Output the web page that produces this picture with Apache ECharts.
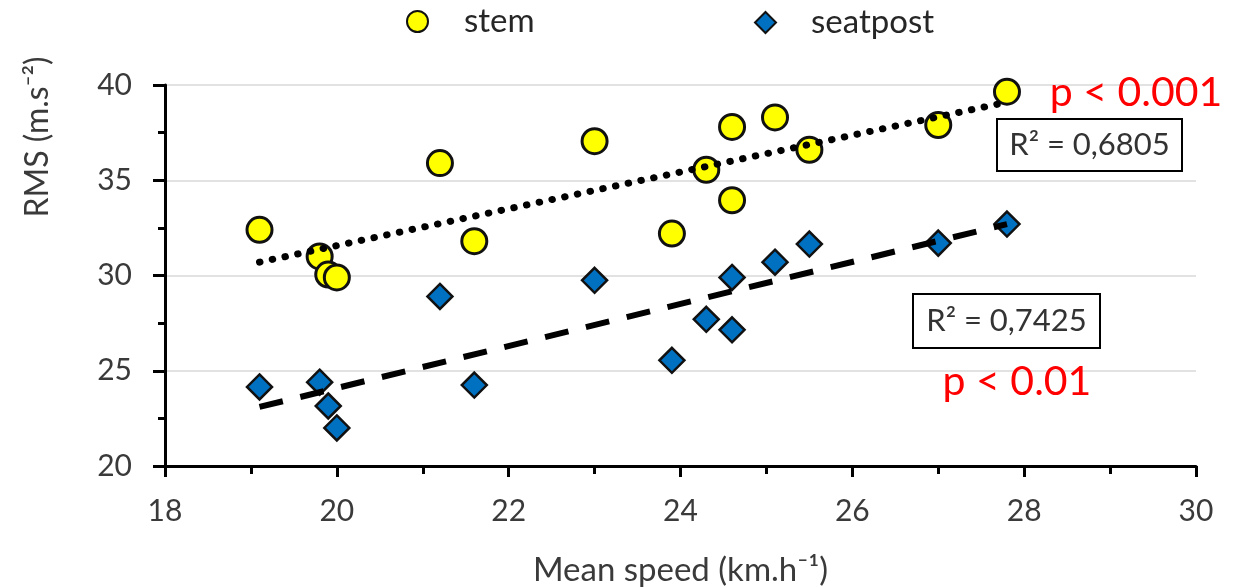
<!DOCTYPE html>
<html><head><meta charset="utf-8">
<script src="https://cdn.jsdelivr.net/npm/echarts@6/dist/echarts.min.js"></script>
<style>html,body{margin:0;padding:0;background:#fff}#c{width:1234px;height:587px}</style>
</head><body><div id="c"></div>
<script>
// ---- data ----
const stemX = [19.1, 19.8, 19.9, 20.0, 21.2, 21.6, 23.0, 23.9, 24.3, 24.6, 24.6, 25.1, 25.5, 27.0, 27.8];
const stemY = [32.4, 31.0, 30.05, 29.9, 35.9, 31.8, 37.05, 32.2, 35.55, 37.8, 33.95, 38.3, 36.6, 37.9, 39.65];
const seatX = [19.1, 19.8, 19.9, 20.0, 21.2, 21.6, 23.0, 23.9, 24.3, 24.6, 24.6, 25.1, 25.5, 27.0, 27.8];
const seatY = [24.15, 24.4, 23.15, 22.0, 28.9, 24.25, 29.75, 25.55, 27.7, 29.9, 27.15, 30.7, 31.65, 31.7, 32.7];
const stemTrendX = [19.1, 27.8];
const stemTrendY = [30.7, 39.1];
const seatTrendX = [19.1, 27.8];
const seatTrendY = [23.1, 32.7];
const seriesNames = ['stem', 'seatpost'];
const xAxisTitle = 'Mean speed (km.h\u207B\u00B9)';
const yAxisTitle = 'RMS (m.s\u207B\u00B2)';
const r2Labels = ['R\u00B2 = 0,6805', 'R\u00B2 = 0,7425'];
const pLabels = ['p < 0.001', 'p < 0.01'];

const FONT = 'Lato';
const pair = (xs, ys) => xs.map((x, i) => [x, ys[i]]);

const chart = echarts.init(document.getElementById('c'), null, {renderer: 'canvas'});
const axisBlack = {color: '#000', width: 3};
chart.setOption({
  animation: false,
  backgroundColor: '#fff',
  grid: {left: 165, right: 38, top: 85, bottom: 121, containLabel: false, outerBoundsMode: 'none'},
  legend: [
    {data: [seriesNames[0]], left: 401, top: 0, itemWidth: 21, itemHeight: 21,
     textStyle: {fontFamily: FONT, fontSize: 33, lineHeight: 24, color: '#262626', padding: [0, 0, 0, 31]}},
    {data: [seriesNames[1]], left: 749, top: 1, itemWidth: 21, itemHeight: 21,
     textStyle: {fontFamily: FONT, fontSize: 33, lineHeight: 24, color: '#262626', padding: [0, 0, 0, 30]}}
  ],
  xAxis: {
    type: 'value', min: 18, max: 30, interval: 2,
    axisLine: {show: true, onZero: false, lineStyle: axisBlack},
    axisTick: {show: true, inside: false, length: 11, lineStyle: axisBlack},
    minorTick: {show: true, splitNumber: 2, length: 8, lineStyle: axisBlack},
    splitLine: {show: false},
    axisLabel: {margin: 30, fontFamily: FONT, fontSize: 30, color: '#3a3a3a'},
    name: xAxisTitle, nameLocation: 'middle', nameGap: 88,
    nameTextStyle: {fontFamily: FONT, fontSize: 33, color: '#3a3a3a'}
  },
  yAxis: {
    type: 'value', min: 20, max: 40, interval: 5,
    axisLine: {show: true, onZero: false, lineStyle: axisBlack},
    axisTick: {show: true, inside: false, length: 12, lineStyle: axisBlack},
    minorTick: {show: true, splitNumber: 2, length: 7, lineStyle: axisBlack},
    splitLine: {show: true, lineStyle: {color: '#d9d9d9', width: 1.5}},
    axisLabel: {margin: 33, fontFamily: FONT, fontSize: 30, color: '#3a3a3a'}
  },
  series: [
    {name: seriesNames[0], type: 'scatter', data: pair(stemX, stemY), symbol: 'circle', symbolSize: 25, z: 2,
     itemStyle: {color: '#FFFF00', borderColor: '#111', borderWidth: 3, opacity: 1}},
    {name: seriesNames[1], type: 'scatter', data: pair(seatX, seatY), symbol: 'diamond', symbolSize: 25, z: 2,
     itemStyle: {color: '#0070C0', borderColor: '#111', borderWidth: 2.5, opacity: 1}},
    {name: 'stemTrend', type: 'line', data: pair(stemTrendX, stemTrendY), symbol: 'none', z: 5, silent: true,
     lineStyle: {color: '#000', width: 7, type: [0.5, 12.5], cap: 'round'}},
    {name: 'seatTrend', type: 'line', data: pair(seatTrendX, seatTrendY), symbol: 'none', z: 5, silent: true,
     lineStyle: {color: '#000', width: 6, type: [24, 18], cap: 'butt'}}
  ],
  graphic: [
    {type: 'text', x: 38, y: 137, rotation: Math.PI / 2,
     style: {text: yAxisTitle, font: '32px ' + FONT, fill: '#3a3a3a', align: 'center', verticalAlign: 'middle'}},
    {type: 'rect', shape: {x: 997, y: 119, width: 185, height: 52},
     style: {fill: '#fff', stroke: '#000', lineWidth: 2}, z: 10},
    {type: 'text', x: 1089.5, y: 145, z: 11,
     style: {text: r2Labels[0], font: '31px ' + FONT, fill: '#333', align: 'center', verticalAlign: 'middle'}},
    {type: 'rect', shape: {x: 913, y: 294, width: 187, height: 54},
     style: {fill: '#fff', stroke: '#000', lineWidth: 2}, z: 10},
    {type: 'text', x: 1006.5, y: 321, z: 11,
     style: {text: r2Labels[1], font: '31px ' + FONT, fill: '#333', align: 'center', verticalAlign: 'middle'}},
    {type: 'text', x: 1136, y: 93, z: 11,
     style: {text: pLabels[0], font: '41px ' + FONT, fill: '#FF0000', align: 'center', verticalAlign: 'middle'}},
    {type: 'text', x: 1017, y: 382, z: 11,
     style: {text: pLabels[1], font: '41px ' + FONT, fill: '#FF0000', align: 'center', verticalAlign: 'middle'}}
  ]
});
</script>
</body></html>
